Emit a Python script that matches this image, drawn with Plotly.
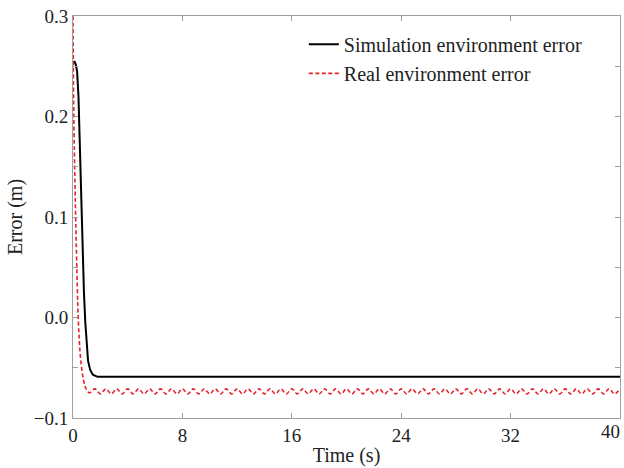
import numpy as np
import plotly.graph_objects as go

# Simulation environment error (black solid)
sim_t = [0.0, 0.1, 0.2, 0.3, 0.4, 0.5, 0.6, 0.7, 0.8, 0.9, 1.0, 1.1, 1.25, 1.45, 1.8, 40.0]
sim_e = [0.253, 0.255, 0.252, 0.245, 0.22, 0.17, 0.11, 0.065, 0.025, -0.005, -0.028, -0.043, -0.052, -0.057, -0.059, -0.059]

# Real environment error (red dashed): transient part
real_t0 = [0.0, 0.02, 0.05, 0.1, 0.15, 0.2, 0.27, 0.35, 0.45, 0.55, 0.7, 0.85, 1.0, 1.2]
real_e0 = [0.3, 0.26, 0.21, 0.165, 0.13, 0.095, 0.055, 0.012, -0.02, -0.04, -0.057, -0.067, -0.072, -0.075]

# Real environment error: steady oscillating part, sampled every 0.4 s from 1.6 s to 40 s
real_e1 = [
    -0.071, -0.076, -0.071, -0.076, -0.071, -0.076, -0.071, -0.076, -0.071, -0.076,
    -0.071, -0.076, -0.071, -0.076, -0.071, -0.076, -0.071, -0.076, -0.071, -0.076,
    -0.071, -0.076, -0.071, -0.076, -0.071, -0.076, -0.071, -0.076, -0.071, -0.076,
    -0.071, -0.076, -0.071, -0.076, -0.071, -0.076, -0.071, -0.076, -0.071, -0.076,
    -0.071, -0.076, -0.071, -0.076, -0.071, -0.076, -0.071, -0.076, -0.071, -0.076,
    -0.071, -0.076, -0.071, -0.076, -0.071, -0.076, -0.071, -0.076, -0.071, -0.076,
    -0.071, -0.076, -0.071, -0.076, -0.071, -0.076, -0.071, -0.076, -0.071, -0.076,
    -0.071, -0.076, -0.071, -0.076, -0.071, -0.076, -0.071, -0.076, -0.071, -0.076,
    -0.071, -0.076, -0.071, -0.076, -0.071, -0.076, -0.071, -0.076, -0.071, -0.076,
    -0.071, -0.076, -0.071, -0.076, -0.071, -0.076, -0.071,
]
real_t1 = list(np.round(np.arange(1.6, 40.001, 0.4), 2))[:len(real_e1)]

real_t = real_t0 + real_t1
real_e = real_e0 + real_e1

x_ticks = [0, 8, 16, 24, 32, 40]
x_text = ["0", "8", "16", "24", "32", ""]
x_last_tick = [40]
x_last_text = ["40"]
y_ticks = [-0.1, -0.05, 0.0, 0.05, 0.1, 0.15, 0.2, 0.25, 0.3]
y_text = ["\u22120.1", "", "0.0", "", "0.1", "", "0.2", "", "0.3"]

FONT = "Liberation Serif, Times New Roman, serif"
TICK_SIZE = 19
TITLE_SIZE = 20

fig = go.Figure()
fig.add_trace(go.Scatter(x=sim_t, y=sim_e, mode="lines", name="Simulation environment error",
                         line=dict(color="black", width=2)))
fig.add_trace(go.Scatter(x=real_t, y=real_e, mode="lines", name="Real environment error",
                         line=dict(color="#e8202a", width=1.6, dash="4px,2.5px", shape="spline", smoothing=1)))
# carrier trace so that the secondary x axis (last tick label) is rendered
fig.add_trace(go.Scatter(x=sim_t[-1:], y=sim_e[-1:], xaxis="x2", mode="lines", showlegend=False,
                         hoverinfo="skip", line=dict(color="black", width=2)))

axis_common = dict(showgrid=False, zeroline=False, showline=True, linecolor="#a0a0a0", linewidth=1,
                   mirror="ticks", ticks="inside", ticklen=5, tickcolor="#a0a0a0", automargin=False,
                   tickfont=dict(family=FONT, size=TICK_SIZE, color="#222"))

fig.update_layout(
    width=624, height=468,
    margin=dict(l=73, r=4, t=16, b=50, autoexpand=False),
    paper_bgcolor="white", plot_bgcolor="white",
    font=dict(family=FONT, size=18, color="#222"),
    xaxis=dict(range=[0, 40], tickvals=x_ticks, ticktext=x_text,
               title=dict(text="Time (s)", font=dict(family=FONT, size=TITLE_SIZE), standoff=3), **axis_common),
    xaxis2=dict(range=[0, 40], overlaying="x", side="bottom", anchor="y", tickvals=x_last_tick,
                ticktext=x_last_text, ticklabelposition="outside left", ticks="", showline=False,
                showgrid=False, zeroline=False, automargin=False,
                tickfont=dict(family=FONT, size=TICK_SIZE, color="#222")),
    yaxis=dict(range=[-0.1, 0.3], tickvals=y_ticks, ticktext=y_text,
               title=dict(text="Error (m)", font=dict(family=FONT, size=TITLE_SIZE), standoff=5), **axis_common),
    legend=dict(x=0.422, y=0.978, xanchor="left", yanchor="top", bgcolor="rgba(0,0,0,0)",
                font=dict(family=FONT, size=20, color="#222"), tracegroupgap=0, itemwidth=30),
    showlegend=True,
)

fig.write_html("out.html")
